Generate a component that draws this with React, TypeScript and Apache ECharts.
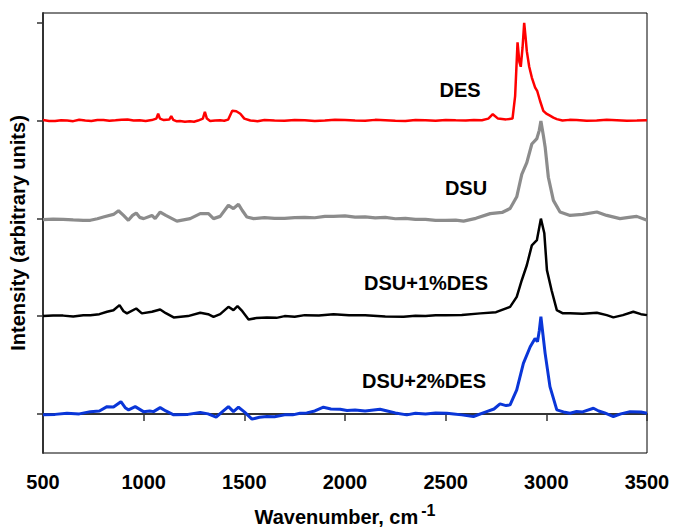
import React, { useEffect, useRef } from "react";
import * as echarts from "echarts";

const xTicks = [500, 1000, 1500, 2000, 2500, 3000, 3500];
const seriesNames = ["DES", "DSU", "DSU+1%DES", "DSU+2%DES"];
const offsets = [3, 2, 1, 0];

// relative intensity (tick units) vs wavenumber
const desSpectrum: number[][] = [
  [500, 0.005], [530, -0.004], [560, -0.005], [590, 0.004], [620, 0.0], [650, -0.006], [680, 0.008], [710, 0.0], [740, -0.004], [770, 0.005], [800, 0.006],
  [830, -0.003], [860, 0.002], [890, 0.008], [920, 0.01], [950, 0.0], [980, 0.003], [1010, -0.004], [1040, 0.005], [1063, 0.02], [1072, 0.07],
  [1081, 0.02], [1100, 0.005], [1127, 0.01], [1137, 0.045], [1147, 0.008], [1165, -0.008], [1180, -0.005], [1205, -0.012],
  [1230, -0.008], [1250, -0.012], [1270, 0.0], [1294, 0.02], [1304, 0.09], [1314, 0.02], [1330, -0.005], [1355, 0.0],
  [1380, 0.003], [1400, -0.002], [1420, 0.01], [1440, 0.1], [1460, 0.095], [1480, 0.07], [1500, 0.02],
  [1530, 0.0], [1565, -0.006], [1600, 0.005], [1650, 0.0], [1700, -0.003], [1750, 0.006], [1800, 0.004], [1850, -0.004], [1900, 0.0], [1950, 0.008], [2000, 0.006],
  [2050, 0.0], [2100, -0.002], [2150, 0.007], [2200, 0.004], [2250, -0.003], [2300, -0.004], [2350, 0.005], [2400, 0.003], [2450, -0.002], [2500, 0.006], [2550, 0.002], [2600, 0.0],
  [2640, 0.006], [2680, 0.004], [2712, 0.02], [2734, 0.065], [2760, 0.02], [2800, 0.012], [2832, 0.02],
  [2845, 0.25], [2857, 0.8], [2866, 0.6], [2873, 0.55], [2882, 0.75], [2890, 1.0],
  [2897, 0.85], [2903, 0.71], [2915, 0.55], [2928, 0.44], [2944, 0.34], [2955, 0.3],
  [2969, 0.2], [2985, 0.1], [3000, 0.07], [3018, 0.05], [3035, 0.03], [3052, 0.015],
  [3080, 0.0], [3115, 0.007], [3150, 0.006], [3200, -0.003], [3250, 0.0], [3300, 0.007], [3350, 0.004], [3400, -0.002], [3450, 0.0], [3500, 0.003],
];

const dsuSpectrum: number[][] = [
  [500, -0.013], [550, -0.008], [600, -0.01], [650, -0.016], [700, -0.02], [735, -0.02], [770, -0.004], [800, 0.013], [850, 0.04],
  [875, 0.078], [900, 0.03], [924, -0.02], [945, 0.03], [963, 0.054], [980, 0.01],
  [1000, -0.003], [1041, 0.03], [1057, -0.003], [1082, 0.064], [1110, 0.03], [1165, -0.028],
  [1231, -0.003], [1281, 0.048], [1322, 0.048], [1347, -0.003], [1380, 0.02], [1421, 0.133],
  [1446, 0.1], [1471, 0.143], [1490, 0.08], [1513, 0.013], [1546, -0.003], [1600, 0.008],
  [1650, 0.0], [1700, 0.0], [1750, 0.008], [1800, 0.01], [1850, 0.006], [1900, 0.02], [1943, 0.02], [2000, 0.025], [2050, 0.012], [2100, 0.015],
  [2150, 0.005], [2200, 0.01], [2250, -0.004], [2300, 0.0], [2350, -0.01], [2400, -0.01], [2450, -0.02], [2500, -0.02], [2550, -0.018], [2589, -0.028], [2650, 0.0],
  [2721, 0.048], [2780, 0.06], [2820, 0.1], [2853, 0.22], [2878, 0.45], [2903, 0.57],
  [2928, 0.76], [2953, 0.816], [2965, 0.9], [2973, 0.996], [2985, 0.85], [2994, 0.73],
  [3010, 0.42], [3035, 0.184], [3068, 0.065], [3118, 0.03], [3180, 0.04], [3251, 0.065],
  [3300, 0.03], [3366, -0.003], [3410, 0.01], [3449, 0.02], [3500, -0.02],
];

const dsu1Spectrum: number[][] = [
  [500, 0.0], [550, 0.006], [600, 0.005], [650, -0.003], [700, 0.008], [735, 0.01], [780, 0.02], [818, 0.044], [850, 0.06], [880, 0.112],
  [900, 0.05], [917, 0.028], [963, 0.078], [991, 0.028], [1041, 0.044], [1082, 0.068],
  [1110, 0.03], [1149, -0.013], [1220, 0.0], [1281, 0.034], [1320, 0.02], [1347, -0.007],
  [1380, 0.02], [1421, 0.095], [1446, 0.061], [1466, 0.102], [1490, 0.05], [1521, -0.034],
  [1560, -0.02], [1612, -0.013], [1660, -0.018], [1700, 0.0], [1750, -0.006], [1800, 0.01], [1870, 0.006], [1943, 0.02], [2020, 0.008], [2100, 0.01], [2200, -0.004], [2291, -0.007],
  [2350, 0.004], [2400, 0.0], [2450, 0.008], [2500, 0.01], [2580, 0.012], [2672, 0.028], [2750, 0.04], [2820, 0.095], [2853, 0.197],
  [2878, 0.367], [2903, 0.52], [2928, 0.724], [2953, 0.776], [2973, 0.997], [2990, 0.847],
  [3003, 0.47], [3026, 0.265], [3052, 0.061], [3080, 0.03], [3118, 0.03], [3180, 0.024], [3251, 0.034], [3300, 0.01], [3333, -0.013],
  [3380, 0.01], [3432, 0.044], [3470, 0.02], [3500, 0.01],
];

const dsu2Spectrum: number[][] = [
  [500, -0.01], [560, -0.005], [619, 0.007], [680, 0.0], [735, 0.023], [780, 0.03],
  [818, 0.074], [850, 0.07], [887, 0.125], [910, 0.06], [925, 0.041], [958, 0.074],
  [999, 0.023], [1030, 0.03], [1049, 0.023], [1082, 0.064], [1110, 0.03], [1149, -0.01],
  [1220, -0.005], [1281, 0.014], [1320, 0.0], [1360, -0.034], [1390, 0.02], [1421, 0.074],
  [1446, 0.023], [1471, 0.068], [1500, 0.02], [1538, -0.054], [1575, -0.035], [1612, -0.027], [1650, -0.03], [1700, -0.01],
  [1740, -0.01], [1777, 0.007], [1810, 0.01], [1850, 0.03], [1893, 0.068], [1930, 0.05], [1976, 0.048], [2010, 0.035], [2050, 0.04], [2100, 0.03], [2174, 0.048],
  [2210, 0.03], [2250, 0.01], [2307, -0.01], [2350, 0.006], [2400, 0.0], [2450, 0.01], [2506, 0.007], [2540, 0.0], [2580, -0.01], [2638, -0.027],
  [2700, 0.02], [2740, 0.05], [2770, 0.102], [2800, 0.085], [2820, 0.092], [2853, 0.245], [2886, 0.517], [2920, 0.687],
  [2944, 0.772], [2956, 0.738], [2965, 0.85], [2973, 0.993], [2994, 0.619], [3018, 0.279],
  [3052, 0.041], [3085, 0.02], [3118, 0.007], [3150, 0.025], [3180, 0.02], [3234, 0.058], [3260, 0.03], [3290, 0.01], [3333, -0.027],
  [3370, 0.0], [3416, 0.023], [3470, 0.02], [3500, 0.007],
];

const spectra = [desSpectrum, dsuSpectrum, dsu1Spectrum, dsu2Spectrum];
const colors = ["#ff0000", "#8c8c8c", "#000000", "#0a36d8"];
const widths = [2.5, 3.2, 2.5, 3];
const labelPos = [
  [460, 90],
  [466, 188],
  [426, 283],
  [424, 381],
];

const FONT = "'Liberation Sans', Arial, sans-serif";

export default function App() {
  const ref = useRef<HTMLDivElement>(null);
  useEffect(() => {
    if (!ref.current) return;
    const chart = echarts.init(ref.current, undefined, { renderer: "svg" });
    chart.setOption({
      animation: false,
      backgroundColor: "#ffffff",
      textStyle: { fontFamily: FONT },
      grid: {
        left: 43,
        right: 26,
        top: 13,
        bottom: 78,
        containLabel: false,
        outerBoundsMode: "none",
        show: true,
        borderColor: "#000",
        borderWidth: 1,
      },
      xAxis: {
        type: "value",
        min: 500,
        max: 3500,
        interval: 500,
        axisLine: { show: true, lineStyle: { color: "#333", width: 2 } },
        axisTick: { show: true, inside: false, length: 7, lineStyle: { color: "#333", width: 1.5 } },
        axisLabel: {
          color: "#000",
          fontSize: 20,
          fontWeight: "bold",
          fontFamily: FONT,
          margin: 19,
          formatter: (v: number) => String(v),
        },
        splitLine: { show: false },
        name: "Wavenumber, cm{sup|-1}",
        nameLocation: "middle",
        nameGap: 49,
        nameTextStyle: {
          color: "#000",
          fontSize: 20,
          fontWeight: "bold",
          fontFamily: FONT,
          rich: {
            sup: {
              fontSize: 16,
              fontWeight: "bold",
              fontFamily: FONT,
              color: "#000",
              verticalAlign: "bottom",
              padding: [0, 0, 14, 3],
            },
          },
        },
      },
      yAxis: {
        type: "value",
        min: -0.4,
        max: 4.1,
        axisLine: { show: true, lineStyle: { color: "#333", width: 2 } },
        axisTick: {
          show: true,
          inside: false,
          length: 6,
          lineStyle: { color: "#333", width: 1.5 },
          customValues: [0, 1, 2, 3, 4],
        },
        axisLabel: { show: false },
        splitLine: { show: false },
        name: "Intensity (arbitrary units)",
        nameLocation: "middle",
        nameGap: 15,
        nameTextStyle: {
          color: "#000",
          fontSize: 20,
          fontWeight: "bold",
          fontFamily: FONT,
        },
      },
      series: spectra.map((s, i) => ({
        type: "line",
        name: seriesNames[i],
        data: s.map(([x, v]) => [x, v + offsets[i]]),
        showSymbol: false,
        symbol: "none",
        smooth: false,
        lineStyle: { color: colors[i], width: widths[i] },
        z: 2 + i,
      })),
      graphic: seriesNames.map((n, i) => ({
        type: "text",
        x: labelPos[i][0],
        y: labelPos[i][1],
        style: {
          text: n,
          fill: "#000",
          font: `bold 20px ${FONT}`,
          textAlign: "center",
          textVerticalAlign: "middle",
        },
        z: 10,
      })),
    });
    return () => chart.dispose();
  }, []);
  return (
    <div
      ref={ref}
      style={{ position: "fixed", left: 0, top: 0, width: 673, height: 531 }}
    />
  );
}
